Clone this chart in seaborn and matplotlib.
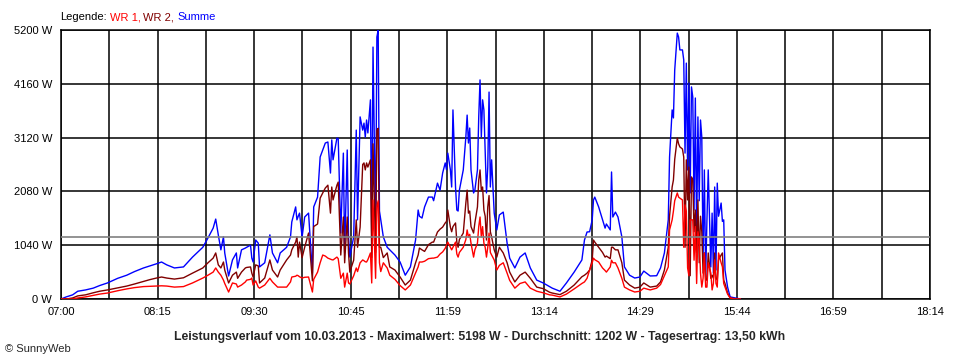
import matplotlib
matplotlib.use("Agg")
import matplotlib.pyplot as plt
import numpy as np
import pandas as pd
import seaborn as sns

# minutes after 07:00
minutes = [0, 4, 9, 13, 19, 25, 30, 36, 44, 51,
           57, 64, 69, 74, 78, 82, 88, 95, 102, 110,
           114, 118, 120, 122, 124, 126, 127, 130, 133, 136,
           137, 140, 143, 144, 147, 148, 149, 151, 153, 154,
           158, 162, 164, 168, 170, 175, 178, 179, 182, 183,
           184, 185, 187, 189, 192, 195, 196, 199, 201, 203,
           205, 207, 209, 210, 211, 214, 215, 217, 219, 220,
           222, 223, 224, 227, 229, 230, 232, 234, 235, 236,
           237, 238, 240, 241, 242, 244, 245, 246, 247, 248,
           250, 253, 255, 259, 263, 267, 271, 275, 277, 278,
           280, 282, 285, 288, 289, 292, 294, 296, 298, 299,
           300, 302, 303, 304, 306, 307, 308, 309, 312, 314,
           315, 316, 317, 318, 320, 321, 323, 324, 325, 326,
           327, 328, 329, 330, 331, 332, 333, 334, 336, 338,
           340, 343, 346, 348, 352, 356, 360, 364, 369, 374,
           379, 381, 387, 392, 398, 404, 406, 408, 410, 412,
           413, 414, 417, 420, 422, 423, 426, 427, 428, 430,
           432, 435, 437, 441, 445, 449, 452, 457, 462, 465,
           468, 471, 472, 474, 475, 476, 478, 479, 480, 482,
           483, 484, 485, 486, 487, 488, 489, 490, 491, 492,
           493, 494, 495, 496, 497, 498, 499, 500, 501, 502,
           504, 505, 506, 507, 508, 509, 510, 512, 513, 514,
           515, 517, 519, 523, 527]

summe = [0, 40, 80, 150, 175, 210, 260, 310, 400, 460,
         530, 600, 640, 680, 715, 660, 600, 620, 810, 1000,
         1180, 1370, 1545, 1240, 950, 1200, 890, 445, 755, 890,
         600, 950, 985, 1000, 1040, 790, 715, 1140, 1080, 620,
         700, 1240, 890, 700, 890, 1000, 1200, 1490, 1780, 1530,
         1600, 1660, 1200, 1585, 1660, 500, 1780, 1970, 2745, 2880,
         3015, 3035, 2435, 3075, 2690, 3110, 3100, 1275, 2820, 890,
         2880, 1200, 810, 1200, 3265, 1530, 3520, 3265, 3400, 3130,
         3460, 3210, 3850, 1200, 4870, 1300, 5065, 5198, 1700, 1530,
         1200, 1000, 950, 850, 715, 460, 620, 1140, 1720, 1600,
         1565, 1780, 1970, 1970, 1900, 2240, 2105, 2435, 2630, 2500,
         2820, 2500, 2165, 3655, 2165, 1720, 1700, 2105, 2495, 3130,
         3555, 3015, 3305, 2495, 2050, 2105, 2495, 3520, 4235, 3130,
         3850, 3655, 2820, 2050, 2550, 4000, 2165, 2690, 1660, 1335,
         1625, 1680, 1080, 790, 600, 810, 890, 600, 365, 310,
         240, 210, 150, 310, 520, 755, 1140, 1295, 1300, 1530,
         1915, 1970, 1780, 1530, 1370, 1450, 1335, 2455, 1585, 1680,
         1585, 1200, 620, 460, 405, 425, 540, 445, 450, 600,
         890, 1530, 2745, 3655, 3500, 4425, 5140, 5065, 4815, 4815,
         4620, 2820, 4560, 2495, 4175, 2050, 4100, 3905, 1720, 3885,
         1200, 3520, 1900, 3460, 3130, 755, 2495, 425, 1530, 2495,
         620, 1660, 500, 2165, 560, 2240, 1600, 1855, 1500, 1530,
         560, 230, 40, 20, 0]

wr2 = [0, 0, 20, 60, 80, 120, 150, 175, 215, 250,
       290, 340, 375, 405, 425, 405, 385, 410, 500, 600,
       700, 790, 890, 660, 600, 715, 560, 310, 460, 520,
       400, 520, 600, 610, 620, 500, 425, 660, 640, 310,
       405, 755, 560, 425, 560, 755, 850, 950, 1100, 1200,
       810, 1100, 800, 1000, 1275, 350, 1400, 1450, 1950, 2050,
       2145, 2200, 1660, 2165, 1915, 2200, 2260, 850, 1585, 700,
       1585, 890, 520, 750, 1530, 1000, 1390, 2600, 2630, 2495,
       2630, 2550, 2690, 800, 3000, 900, 3265, 3300, 1000, 1000,
       800, 890, 620, 560, 425, 270, 365, 700, 850, 985,
       950, 920, 1050, 1100, 1100, 1295, 1350, 1390, 1470, 1500,
       1720, 1390, 1300, 1400, 1470, 1100, 1000, 1150, 1275, 1855,
       2105, 1660, 1700, 1400, 1275, 1470, 1780, 2300, 2495, 2100,
       2165, 1720, 1600, 1140, 1780, 2000, 1300, 1200, 950, 810,
       1000, 890, 700, 520, 330, 460, 520, 400, 230, 200,
       130, 115, 85, 150, 270, 430, 460, 500, 560, 755,
       1140, 1100, 1000, 900, 810, 830, 780, 1000, 1000, 950,
       950, 700, 365, 270, 210, 230, 310, 230, 250, 330,
       560, 1000, 1600, 2165, 2300, 2700, 3110, 3000, 2940, 2900,
       2745, 1000, 2690, 1915, 2550, 450, 2360, 2300, 1300, 1720,
       890, 1915, 700, 1600, 1300, 500, 890, 365, 365, 890,
       400, 460, 400, 890, 400, 365, 755, 850, 890, 365,
       300, 115, 20, 0, 0]

wr1 = [0, 0, 0, 20, 40, 70, 95, 115, 160, 195,
       220, 240, 245, 250, 255, 250, 230, 240, 310, 405,
       460, 520, 600, 520, 460, 365, 300, 135, 310, 290,
       230, 270, 330, 365, 380, 405, 270, 350, 230, 210,
       270, 400, 330, 230, 230, 230, 330, 425, 440, 460,
       450, 430, 405, 420, 425, 135, 380, 520, 700, 850,
       830, 790, 770, 760, 755, 810, 780, 400, 500, 230,
       500, 310, 290, 450, 600, 530, 700, 755, 740, 720,
       715, 760, 890, 310, 1915, 400, 1780, 1900, 700, 530,
       700, 600, 460, 380, 260, 175, 270, 500, 620, 715,
       715, 730, 780, 790, 790, 810, 870, 910, 980, 1040,
       1100, 1000, 950, 1000, 1100, 870, 810, 900, 1000, 1150,
       1335, 1200, 1250, 1080, 810, 950, 1080, 1400, 1585, 1200,
       1400, 1080, 1000, 810, 1000, 1275, 900, 850, 755, 560,
       650, 700, 500, 360, 210, 300, 330, 210, 150, 120,
       80, 75, 40, 95, 195, 300, 330, 400, 560, 700,
       790, 760, 715, 600, 550, 520, 620, 750, 700, 700,
       600, 400, 230, 175, 135, 150, 210, 175, 210, 280,
       450, 620, 1335, 1530, 1700, 1900, 2050, 1970, 1950, 1915,
       1000, 1820, 1700, 600, 450, 1530, 1530, 1530, 750, 1400,
       300, 1300, 1140, 500, 230, 400, 890, 230, 230, 700,
       500, 175, 300, 755, 300, 230, 890, 700, 620, 300,
       230, 95, 20, 0, 0]

average = 1202
y_ticks = [0, 1040, 2080, 3120, 4160, 5200]
x_labels = ["07:00", "08:15", "09:30", "10:45", "11:59",
            "13:14", "14:29", "15:44", "16:59", "18:14"]
series = ["Summe", "WR 2", "WR 1"]
colors = {"WR 1": "#ff0000", "WR 2": "#800000", "Summe": "#0000ff"}

df = pd.DataFrame({
    "min": minutes * 3,
    "W": summe + wr2 + wr1,
    "serie": ["Summe"] * len(minutes) + ["WR 2"] * len(minutes) + ["WR 1"] * len(minutes),
})

sns.set_style("white")
plt.rcParams["font.family"] = ["Liberation Sans", "DejaVu Sans"]

fig = plt.figure(figsize=(9.6, 3.6), dpi=100)
ax = fig.add_axes([61 / 960, 61 / 360, 869 / 960, 269 / 360])

sns.lineplot(data=df, x="min", y="W", hue="serie", hue_order=series, palette=colors,
             estimator=None, sort=False, legend=False, lw=1.0, ax=ax, zorder=3)
ax.axhline(average, color="#808080", lw=1.2, zorder=4)

span = 674
ax.set_xlim(0, span)
ax.set_ylim(0, 5200)
xpos = np.linspace(0, span, 19)
ax.set_xticks(xpos)
ax.set_xticklabels([x_labels[i // 2] if i % 2 == 0 else "" for i in range(19)])
ax.set_yticks(y_ticks)
ax.set_yticklabels([f"{v} W" for v in y_ticks])
ax.grid(True, color="black", lw=1.1)
ax.set_axisbelow(True)
for s in ax.spines.values():
    s.set_visible(True)
    s.set_color("black")
    s.set_linewidth(1.1)
ax.tick_params(axis="both", direction="out", length=4.3, width=1.1, color="black",
               labelsize=8, labelcolor="black")
ax.tick_params(axis="x", pad=1.5)
ax.tick_params(axis="y", pad=2)
ax.set_xlabel("")
ax.set_ylabel("")

# legend line
ly = 1 - 17 / 360
fig.text(60 / 960, ly, "Legende:", fontsize=8, color="black", va="center")
fig.text(110 / 960, ly, "WR 1,", fontsize=8, color=colors["WR 1"], va="center")
fig.text(143 / 960, ly, "WR 2,", fontsize=8, color=colors["WR 2"], va="center")
fig.text(177 / 960, ly, "Summe", fontsize=8, color=colors["Summe"], va="center")

fig.text(480 / 960, 1 - 337 / 360,
         f"Leistungsverlauf vom 10.03.2013 - Maximalwert: {max(summe)} W - "
         f"Durchschnitt: {average} W - Tagesertrag: 13,50 kWh",
         fontsize=8.8, fontweight="bold", ha="center", va="center")
fig.text(5 / 960, 1 - 349 / 360, "© SunnyWeb", fontsize=8, va="center")

fig.savefig("out.png", dpi=100)
